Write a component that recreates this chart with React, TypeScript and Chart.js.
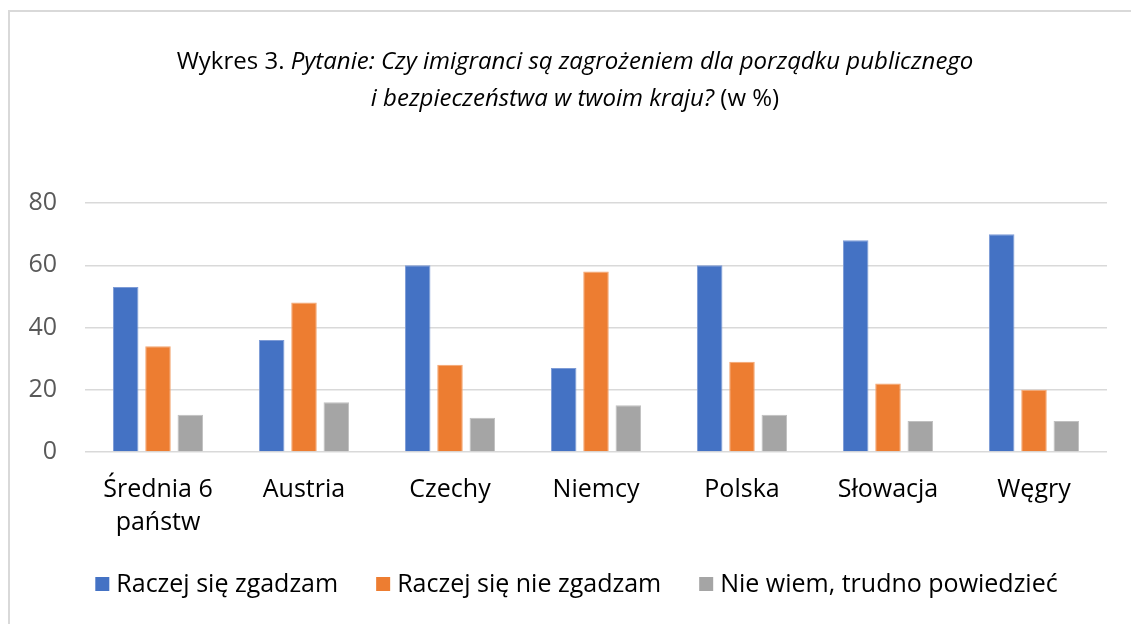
import React, { useEffect, useRef } from "react";
import { Chart, registerables } from "chart.js";

Chart.register(...registerables);

const categories: (string | string[])[] = [["Średnia 6", "państw"], "Austria", "Czechy", "Niemcy", "Polska", "Słowacja", "Węgry"];
const seriesNames = ["Raczej się zgadzam", "Raczej się nie zgadzam", "Nie wiem, trudno powiedzieć"];
const seriesColors = ["#4472C4", "#ED7D31", "#A5A5A5"];
const seriesBorders = ["#7D9BD6", "#F3A570", "#C0C0C0"];
const agreeValues = [53, 36, 60, 27, 60, 68, 70];
const disagreeValues = [34, 48, 28, 58, 29, 22, 20];
const dontKnowValues = [12, 16, 11, 15, 12, 10, 10];
const yMin = 0;
const yMax = 80;
const yStep = 20;
const titlePrefix = "Wykres 3. ";
const titleItalicLine1 = "Pytanie: Czy imigranci są zagrożeniem dla porządku publicznego";
const titleItalicLine2 = "i bezpieczeństwa w twoim kraju?";
const titleSuffix = " (w %)";

const FONT = "'Open Sans', 'Noto Sans', sans-serif";
const AXIS_FONT_SIZE = 25;

const framePlugin = {
  id: "frame",
  beforeDraw(chart: any) {
    const ctx = chart.ctx;
    ctx.save();
    ctx.fillStyle = "#ffffff";
    ctx.fillRect(0, 0, chart.width, chart.height);
    ctx.strokeStyle = "#D9D9D9";
    ctx.lineWidth = 2;
    ctx.beginPath();
    ctx.moveTo(9, chart.height + 2);
    ctx.lineTo(9, 11);
    ctx.lineTo(chart.width + 2, 11);
    ctx.stroke();
    ctx.restore();
  },
};

const titlePlugin = {
  id: "mixedTitle",
  afterDraw(chart: any) {
    const ctx = chart.ctx;
    ctx.save();
    const size = 24;
    const normal = `${size}px ${FONT}`;
    const italic = `italic ${size}px ${FONT}`;
    const lines = [
      [
        { t: titlePrefix, f: normal },
        { t: titleItalicLine1, f: italic },
      ],
      [
        { t: titleItalicLine2, f: italic },
        { t: titleSuffix, f: normal },
      ],
    ];
    const cx = 575;
    const baselines = [69, 106];
    ctx.textBaseline = "alphabetic";
    ctx.textAlign = "left";
    ctx.fillStyle = "#000000";
    lines.forEach((parts, i) => {
      let w = 0;
      parts.forEach((p) => {
        ctx.font = p.f;
        w += ctx.measureText(p.t).width;
      });
      let x = cx - w / 2;
      parts.forEach((p) => {
        ctx.font = p.f;
        ctx.fillText(p.t, x, baselines[i]);
        x += ctx.measureText(p.t).width;
      });
    });
    ctx.restore();
  },
};

const legendPlugin = {
  id: "customLegend",
  afterDraw(chart: any) {
    const ctx = chart.ctx;
    ctx.save();
    ctx.font = `${AXIS_FONT_SIZE}px ${FONT}`;
    const box = 14;
    const gapText = 7;
    const gapItem = 38;
    const items = chart.data.datasets.map((ds: any) => ({
      label: ds.label as string,
      color: ds.backgroundColor as string,
      w: ctx.measureText(ds.label).width,
    }));
    const total =
      items.reduce((s: number, it: any) => s + box + gapText + it.w, 0) + gapItem * (items.length - 1);
    const cx = 576.5;
    const cy = 584;
    let x = cx - total / 2;
    ctx.textBaseline = "middle";
    ctx.textAlign = "left";
    items.forEach((it: any) => {
      ctx.fillStyle = it.color;
      ctx.fillRect(x, cy - box / 2, box, box);
      x += box + gapText;
      ctx.fillStyle = "#000000";
      ctx.fillText(it.label, x, cy + 1);
      x += it.w + gapItem;
    });
    ctx.restore();
  },
};

export default function App() {
  const canvasRef = useRef<HTMLCanvasElement | null>(null);

  useEffect(() => {
    const canvas = canvasRef.current;
    if (!canvas) return;
    const seriesValues = [agreeValues, disagreeValues, dontKnowValues];
    const chart = new Chart(canvas, {
      type: "bar",
      data: {
        labels: categories,
        datasets: seriesNames.map((name, i) => ({
          label: name,
          data: seriesValues[i],
          backgroundColor: seriesColors[i],
          borderColor: seriesBorders[i],
          borderWidth: 1,
        })),
      },
      options: {
        responsive: false,
        animation: false,
        devicePixelRatio: 1,
        categoryPercentage: 0.664,
        barPercentage: 0.79,
        layout: {
          padding: { left: 0, right: 24, top: 203, bottom: 63 },
        },
        plugins: {
          title: { display: false },
          tooltip: { enabled: false },
          legend: { display: false },
        },
        scales: {
          x: {
            grid: { display: false },
            border: { display: false },
            ticks: {
              color: "#000000",
              font: { family: FONT, size: AXIS_FONT_SIZE, lineHeight: 1.3 },
              padding: 14,
              maxRotation: 0,
              autoSkip: false,
            },
            afterFit: (scale: any) => {
              scale.height = 109;
            },
          },
          y: {
            min: yMin,
            max: yMax,
            border: { display: false },
            grid: { color: "#D9D9D9", lineWidth: 1.5, drawTicks: false },
            ticks: {
              stepSize: yStep,
              color: "#595959",
              font: { family: FONT, size: AXIS_FONT_SIZE },
              padding: 28,
            },
            afterFit: (scale: any) => {
              scale.width = 85;
            },
          },
        },
      },
      plugins: [framePlugin, titlePlugin, legendPlugin],
    } as any);
    return () => chart.destroy();
  }, []);

  return (
    <div style={{ position: "fixed", left: 0, top: 0, width: 1131, height: 624, background: "#fff" }}>
      <canvas ref={canvasRef} width={1131} height={624} style={{ display: "block", width: 1131, height: 624 }} />
    </div>
  );
}
